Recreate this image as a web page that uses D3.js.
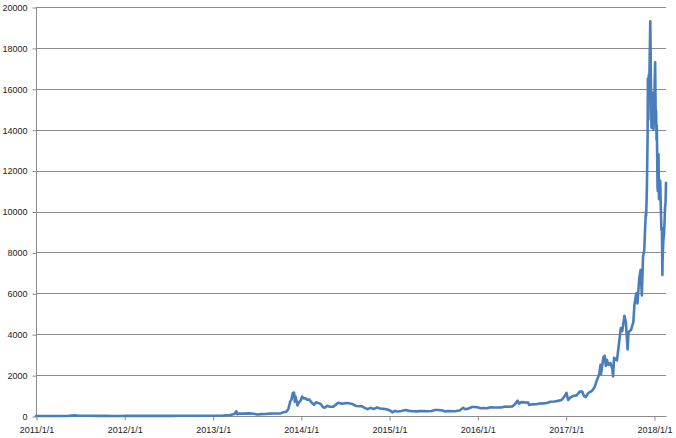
<!DOCTYPE html>
<html>
<head>
<meta charset="utf-8">
<script src="https://cdn.jsdelivr.net/npm/d3@7"></script>
<style>
  html, body { margin: 0; padding: 0; background: #fff; }
  svg { display: block; }
  text { font-family: "Liberation Sans", Arial, sans-serif; fill: #222; }
</style>
</head>
<body>
<svg id="chart" width="676" height="438"></svg>
<script>
// ---- Data ----
const dates = [
"2011-01-01","2011-02-10","2011-03-15","2011-04-15","2011-05-15","2011-06-08","2011-06-20","2011-07-15","2011-08-15","2011-09-15","2011-10-15","2011-11-15","2011-12-15",
"2012-01-10","2012-02-15","2012-03-15","2012-04-15","2012-05-15","2012-06-15","2012-07-15","2012-08-16","2012-08-20","2012-09-15","2012-10-15","2012-11-15","2012-12-15",
"2013-01-15","2013-02-15","2013-03-15","2013-03-31","2013-04-09","2013-04-12","2013-04-20","2013-05-10","2013-06-01","2013-06-20","2013-07-05","2013-07-20","2013-08-10","2013-08-25","2013-09-10","2013-09-25","2013-10-10","2013-10-20","2013-11-01","2013-11-10","2013-11-18","2013-11-23","2013-11-29","2013-12-04","2013-12-07","2013-12-10","2013-12-18","2013-12-23","2013-12-31",
"2014-01-06","2014-01-12","2014-01-20","2014-01-27","2014-02-05","2014-02-15","2014-02-25","2014-03-05","2014-03-15","2014-03-25","2014-04-02","2014-04-10","2014-04-20","2014-05-01","2014-05-15","2014-05-28","2014-06-05","2014-06-20","2014-07-05","2014-07-20","2014-08-01","2014-08-18","2014-09-01","2014-09-10","2014-09-22","2014-10-05","2014-10-15","2014-10-30","2014-11-12","2014-11-25","2014-12-10","2014-12-25",
"2015-01-05","2015-01-14","2015-01-25","2015-02-05","2015-02-20","2015-03-10","2015-03-25","2015-04-10","2015-04-25","2015-05-10","2015-05-25","2015-06-10","2015-06-25","2015-07-10","2015-07-25","2015-08-10","2015-08-19","2015-09-05","2015-09-20","2015-10-05","2015-10-20","2015-11-04","2015-11-12","2015-11-25","2015-12-10","2015-12-20",
"2016-01-01","2016-01-15","2016-01-25","2016-02-10","2016-02-25","2016-03-10","2016-03-25","2016-04-10","2016-04-25","2016-05-10","2016-05-25","2016-06-05","2016-06-16","2016-06-22","2016-07-01","2016-07-15","2016-07-30","2016-08-02","2016-08-15","2016-09-01","2016-09-15","2016-10-01","2016-10-15","2016-10-30","2016-11-15","2016-11-30","2016-12-15","2016-12-28",
"2017-01-04","2017-01-11","2017-01-20","2017-02-01","2017-02-15","2017-02-28","2017-03-10","2017-03-18","2017-03-25","2017-04-05","2017-04-20","2017-05-01","2017-05-10","2017-05-20","2017-05-25","2017-05-27","2017-06-06","2017-06-11","2017-06-16","2017-06-20","2017-06-27","2017-07-05","2017-07-12","2017-07-16","2017-07-20","2017-08-01","2017-08-08","2017-08-17","2017-08-23","2017-09-01","2017-09-07","2017-09-14","2017-09-18","2017-09-28","2017-10-08","2017-10-12","2017-10-20","2017-10-25","2017-11-01","2017-11-07","2017-11-12","2017-11-17","2017-11-22","2017-11-26","2017-11-29","2017-11-30","2017-12-03","2017-12-06","2017-12-07","2017-12-09","2017-12-11","2017-12-13","2017-12-17","2017-12-19","2017-12-22","2017-12-25","2017-12-27","2017-12-30",
"2018-01-02","2018-01-06","2018-01-08","2018-01-10","2018-01-12","2018-01-13","2018-01-16","2018-01-17","2018-01-20","2018-01-22","2018-01-27","2018-01-30","2018-02-01","2018-02-03","2018-02-05","2018-02-06","2018-02-09","2018-02-12","2018-02-14","2018-02-16","2018-02-18","2018-02-20"
];
const prices = [
0.3,1.0,0.9,1.0,7,30,17,14,11,5,4,2.5,3.2,
7,4.5,5,5,5,6.5,8.5,13,9,12,12,11,13.5,
15,27,47,93,230,90,120,118,128,108,70,90,100,115,125,125,125,180,205,330,700,800,1130,1150,700,950,520,650,750,
950,860,870,800,800,650,550,670,630,580,440,400,500,450,450,580,650,600,630,620,590,490,480,480,400,330,400,340,420,370,350,320,
270,180,250,220,245,290,250,235,225,240,238,230,245,290,290,265,225,240,230,240,270,400,330,360,440,440,
430,380,395,380,425,415,415,420,460,450,470,580,750,600,680,665,655,540,570,575,610,615,640,700,710,740,780,975,
1130,780,900,980,1010,1190,1200,970,930,1130,1230,1420,1750,2050,2500,2050,2870,2950,2450,2750,2500,2600,2350,1930,2850,2720,3400,4300,4150,4900,4600,3250,4100,4200,4600,5400,6000,5500,6700,7150,5900,7800,8100,9300,10000,9800,11200,13800,16500,14500,16700,16400,19300,17000,14100,14200,15800,14000,
15000,17300,15000,14900,13500,14200,11200,11000,12800,10600,11500,10000,9100,9200,6900,7700,8600,8900,9500,10200,10400,11400
];
const yTicks = [0,2000,4000,6000,8000,10000,12000,14000,16000,18000,20000];
const xTickDates = ["2011-01-01","2012-01-01","2013-01-01","2014-01-01","2015-01-01","2016-01-01","2017-01-01","2018-01-01"];
const xTickLabels = ["2011/1/1","2012/1/1","2013/1/1","2014/1/1","2015/1/1","2016/1/1","2017/1/1","2018/1/1"];

// ---- Drawing ----
(function () {
const parse = d3.utcParse("%Y-%m-%d");
const data = dates.map((d, i) => ({ date: parse(d), value: prices[i] }));

const mLeft = 36, mRight = 666, mTop = 7, mBottom = 416;
const svg = d3.select("#chart");

const x = d3.scaleUtc()
  .domain([parse("2011-01-01"), parse("2018-02-20")])
  .range([mLeft, mRight]);
const y = d3.scaleLinear().domain([0, 20000]).range([mBottom, mTop]);

const gridColor = "#8c8c8c";

// horizontal gridlines
svg.append("g")
  .selectAll("line")
  .data(yTicks.filter(v => v > 0))
  .join("line")
  .attr("x1", mLeft).attr("x2", mRight)
  .attr("y1", d => Math.round(y(d)) + 0.5)
  .attr("y2", d => Math.round(y(d)) + 0.5)
  .attr("stroke", gridColor).attr("stroke-width", 1);

// y axis
const yAxis = d3.axisLeft(y).tickValues(yTicks).tickSize(4).tickPadding(5).tickFormat(d3.format("d"));
const gy = svg.append("g").attr("transform", `translate(${mLeft + 0.5},0.5)`).call(yAxis);
gy.select(".domain").attr("stroke", gridColor).attr("d", `M0,${mTop}V${mBottom}`);
gy.selectAll(".tick line").attr("stroke", gridColor);
gy.selectAll(".tick text")
  .attr("font-family", "Liberation Sans, Arial, sans-serif")
  .attr("font-size", 9).attr("fill", "#222");

// x axis
const xAxis = d3.axisBottom(x)
  .tickValues(xTickDates.map(parse))
  .tickSize(4).tickPadding(6)
  .tickFormat((d, i) => xTickLabels[i]);
const gx = svg.append("g").attr("transform", `translate(0.5,${mBottom + 0.5})`).call(xAxis);
gx.select(".domain").attr("stroke", gridColor).attr("d", `M${mLeft},0H${mRight}`);
gx.selectAll(".tick line").attr("stroke", gridColor);
gx.selectAll(".tick text")
  .attr("font-family", "Liberation Sans, Arial, sans-serif")
  .attr("font-size", 9).attr("fill", "#222");

// price line
const line = d3.line().x(d => x(d.date)).y(d => y(d.value));
svg.append("path")
  .datum(data)
  .attr("d", line)
  .attr("fill", "none")
  .attr("stroke", "#4a7ebb")
  .attr("stroke-width", 2.6)
  .attr("stroke-linejoin", "round")
  .attr("stroke-linecap", "round");
})();
</script>
</body>
</html>
